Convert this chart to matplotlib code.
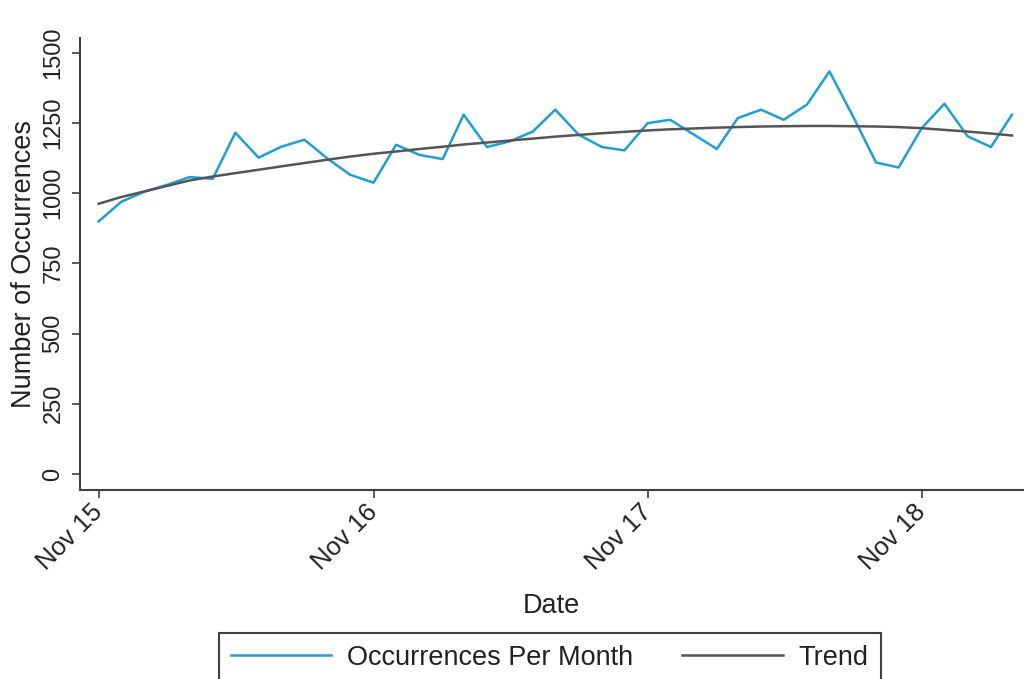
import matplotlib
matplotlib.use("Agg")
import matplotlib.pyplot as plt
import matplotlib.dates as mdates
import pandas as pd

plt.rcParams['font.family'] = ['Liberation Sans', 'DejaVu Sans']

# Monthly counts, Nov 2015 - Mar 2019
months = pd.date_range("2015-11-01", periods=41, freq="MS")
occurrences = [899, 969, 1005, 1030, 1057, 1051, 1215, 1126, 1165, 1190,
               1122, 1065, 1037, 1172, 1136, 1121, 1279, 1164, 1184, 1219,
               1297, 1208, 1164, 1152, 1249, 1261, 1209, 1157, 1267, 1297,
               1261, 1315, 1433, 1275, 1109, 1091, 1232, 1318, 1202, 1164,
               1279]
trend = [962, 986, 1006, 1026, 1045, 1059, 1071, 1083, 1095, 1107,
         1119, 1130, 1140, 1148, 1157, 1165, 1173, 1180, 1187, 1194,
         1201, 1207, 1213, 1218, 1223, 1227, 1230, 1233, 1235, 1237,
         1238, 1239, 1239, 1238, 1237, 1235, 1231, 1225, 1219, 1212,
         1205]
tick_dates = pd.to_datetime(["2015-11-01", "2016-11-01", "2017-11-01", "2018-11-01"])
y_ticks = [0, 250, 500, 750, 1000, 1250, 1500]

FS = 19.5
FS_Y = 17
FS_X = 18.5
DARK = "#404040"
TXT = "#222222"

fig = plt.figure(figsize=(10.24, 6.79), dpi=100)
ax = fig.add_axes([0.078, 0.2784, 0.922, 0.666])

ax.plot(months, occurrences, color="#1f9fd6", lw=1.8, label="Occurrences Per Month")
ax.plot(months, trend, color="#555555", lw=1.8, label="Trend")

ax.set_ylim(-57, 1553)
ax.set_xlim(pd.Timestamp("2015-10-07"), pd.Timestamp("2019-03-17"))
ax.set_yticks(y_ticks)
ax.set_yticklabels([str(v) for v in y_ticks], rotation=90, va="center", fontsize=FS_Y)
ax.set_xticks(tick_dates)
ax.xaxis.set_major_formatter(mdates.DateFormatter("%b %y"))
for lbl in ax.get_xticklabels():
    lbl.set_rotation(45)
    lbl.set_ha("right")
    lbl.set_va("center")
    lbl.set_rotation_mode("anchor")
    lbl.set_fontsize(FS_X)

ax.tick_params(axis="both", direction="out", length=6, width=1.2, color=DARK,
               labelcolor=TXT)
ax.tick_params(axis="y", pad=5)
ax.tick_params(axis="x", pad=7)
for side in ("top", "right"):
    ax.spines[side].set_visible(False)
for side in ("left", "bottom"):
    ax.spines[side].set_color(DARK)
    ax.spines[side].set_linewidth(1.5)

ax.set_xlabel("Date", fontsize=FS, color=TXT)
ax.xaxis.set_label_coords(0.499, -0.228)
ax.set_ylabel("Number of Occurrences", fontsize=FS, color=TXT)
ax.yaxis.set_label_coords(-0.0454, 0.5)

leg = fig.legend(loc="upper center", bbox_to_anchor=(0.537, 0.088), ncol=2,
                 fontsize=FS, frameon=True, fancybox=False, framealpha=1,
                 handlelength=3.7, handletextpad=0.6, columnspacing=1.8,
                 borderpad=0.45)
leg.get_frame().set_edgecolor(DARK)
leg.get_frame().set_linewidth(1.5)
for t in leg.get_texts():
    t.set_color(TXT)

fig.savefig("out.png", dpi=100)
